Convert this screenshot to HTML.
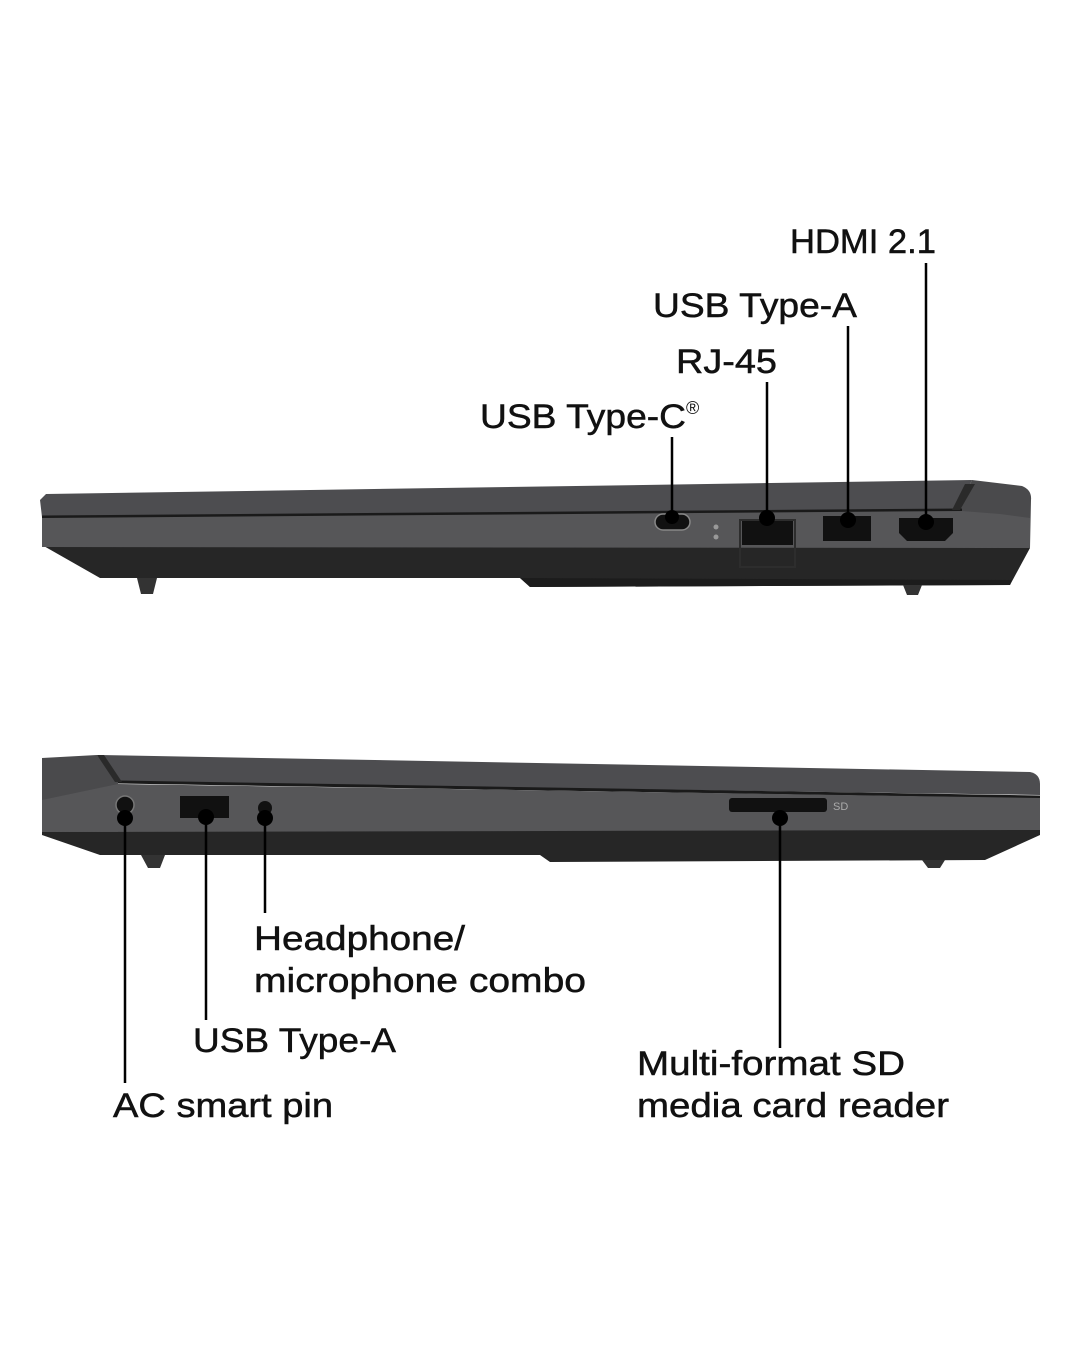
<!DOCTYPE html>
<html><head><meta charset="utf-8"><style>
html,body{margin:0;padding:0;background:#fff;}
svg{display:block;}
text{font-family:"Liberation Sans",sans-serif;font-size:34px;fill:#111;stroke:#111;stroke-width:0.5;}
</style></head><body>
<svg width="1080" height="1350" viewBox="0 0 1080 1350" xmlns="http://www.w3.org/2000/svg">
<!-- TOP LAPTOP -->
<path d="M42 545 L975 545 L1030 548 L1010 585 L530 587 L520 578 L100 578 Z" fill="#262626"/>
<path d="M520 578 L530 587 L1010 585 L1012 580 Z" fill="#1c1c1c"/>
<path d="M137 578 L157 578 L153 594 L141 594 Z" fill="#333"/>
<path d="M903 585 L922 585 L918 595 L907 595 Z" fill="#333"/>
<path d="M46 494 L972 480 L962 503 L962 513 L42 517 L40 500 Z" fill="#4d4d50"/>
<path d="M972 480 L1022 486 Q1032 490 1031 500 L1030 548 L975 548 L958 512 Z" fill="#4a4a4c"/>
<line x1="42" y1="517" x2="962" y2="510" stroke="#1a1a1a" stroke-width="3"/>
<path d="M42 518 L962 511 L1000 514 L1030 518 L1030 548 L42 547 Z" fill="#565658"/>
<path d="M965 484 L975 484 L960 510 L952 510 Z" fill="#2a2a2a"/>
<rect x="655" y="514" width="35" height="16" rx="8" fill="#111" stroke="#888" stroke-width="1.5"/>
<circle cx="716" cy="527" r="2.5" fill="#999"/><circle cx="716" cy="537" r="2.5" fill="#999"/>
<rect x="740" y="520" width="55" height="47" fill="none" stroke="#2d2d2d" stroke-width="2"/>
<rect x="742" y="521" width="51" height="24" fill="#111"/>
<rect x="823" y="516" width="48" height="25" fill="#111"/>
<path d="M899 518 L953 518 L953 533 L945 541 L907 541 L899 533 Z" fill="#111"/>
<g stroke="#000" stroke-width="2.5">
<line x1="926" y1="263" x2="926" y2="522"/>
<line x1="848" y1="326" x2="848" y2="520"/>
<line x1="767" y1="382" x2="767" y2="518"/>
<line x1="672" y1="437" x2="672" y2="516"/>
</g>
<g fill="#000">
<circle cx="926" cy="522" r="8"/><circle cx="848" cy="520" r="8"/><circle cx="767" cy="518" r="8"/><circle cx="672" cy="517" r="7"/>
</g>
<text x="790" y="253" textLength="146" lengthAdjust="spacingAndGlyphs">HDMI 2.1</text>
<text x="653" y="317" textLength="204" lengthAdjust="spacingAndGlyphs">USB Type-A</text>
<text x="676" y="373" textLength="101" lengthAdjust="spacingAndGlyphs">RJ-45</text>
<text x="480" y="428" textLength="206" lengthAdjust="spacingAndGlyphs">USB Type-C</text>
<text x="686" y="414" style="font-size:18px;stroke-width:0">®</text>

<!-- BOTTOM LAPTOP -->
<path d="M42 830 L1040 830 L1040 835 L985 860 L550 862 L540 855 L100 855 L42 835 Z" fill="#262626"/>
<path d="M141 855 L165 855 L160 868 L148 868 Z" fill="#333"/>
<path d="M922 860 L945 860 L940 868 L928 868 Z" fill="#333"/>
<path d="M100 755 L1030 772 Q1040 774 1040 784 L1040 795 L115 782 Z" fill="#4d4d50"/>
<path d="M42 758 L97 755 L118 782 L118 832 L42 832 Z" fill="#4a4a4c"/>
<line x1="118" y1="782" x2="1040" y2="797" stroke="#1a1a1a" stroke-width="3"/>
<path d="M118 784 L1040 798 L1040 830 L42 832 L42 800 Z" fill="#565658"/>
<path d="M97 755 L104 755 L122 782 L115 782 Z" fill="#2a2a2a"/>
<circle cx="125" cy="805" r="9" fill="#111" stroke="#777" stroke-width="1.5"/>
<rect x="180" y="796" width="49" height="22" fill="#111"/>
<circle cx="265" cy="808" r="7" fill="#111"/>
<rect x="729" y="798" width="98" height="14" rx="3" fill="#111"/>
<text x="833" y="810" style="font-size:11px;fill:#aaa;stroke-width:0">SD</text>
<g stroke="#000" stroke-width="2.5">
<line x1="125" y1="817" x2="125" y2="1083"/>
<line x1="206" y1="817" x2="206" y2="1020"/>
<line x1="265" y1="817" x2="265" y2="913"/>
<line x1="780" y1="818" x2="780" y2="1048"/>
</g>
<g fill="#000">
<circle cx="125" cy="818" r="8"/><circle cx="206" cy="817" r="8"/><circle cx="265" cy="818" r="8"/><circle cx="780" cy="818" r="8"/>
</g>
<text x="254" y="950" textLength="211" lengthAdjust="spacingAndGlyphs">Headphone/</text>
<text x="254" y="992" textLength="332" lengthAdjust="spacingAndGlyphs">microphone combo</text>
<text x="193" y="1052" textLength="203" lengthAdjust="spacingAndGlyphs">USB Type-A</text>
<text x="113" y="1117" textLength="220" lengthAdjust="spacingAndGlyphs">AC smart pin</text>
<text x="637" y="1075" textLength="268" lengthAdjust="spacingAndGlyphs">Multi-format SD</text>
<text x="637" y="1117" textLength="312" lengthAdjust="spacingAndGlyphs">media card reader</text>
</svg>
</body></html>
